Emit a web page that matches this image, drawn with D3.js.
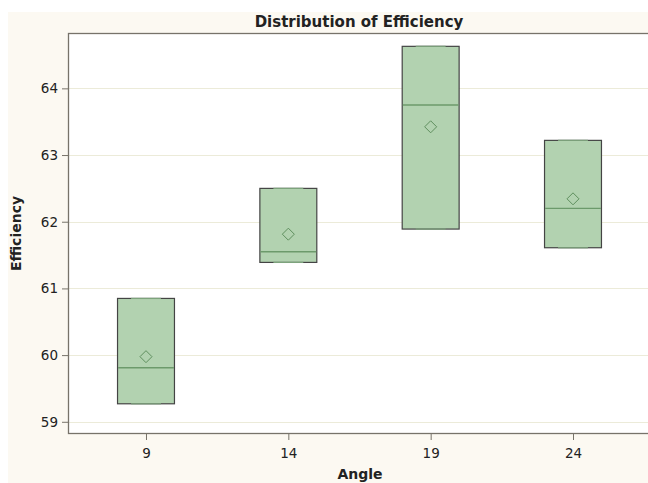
<!DOCTYPE html>
<html>
<head>
<meta charset="utf-8">
<script src="https://cdn.jsdelivr.net/npm/d3@7"></script>
<style>
  html, body { margin: 0; padding: 0; background: #ffffff; }
  svg { display: block; }
  text { font-family: "DejaVu Sans", sans-serif; fill: #222; }
</style>
</head>
<body>
<svg id="chart" width="648" height="483"></svg>
<script>
// Efficiency readings, three runs at each angle
const angles = [9, 14, 19, 24];
const runsAt9  = [59.27, 59.81, 60.85];
const runsAt14 = [61.39, 61.55, 62.50];
const runsAt19 = [61.89, 63.75, 64.63];
const runsAt24 = [61.61, 62.20, 63.22];
const runs = [runsAt9, runsAt14, runsAt19, runsAt24];
const yTicks = [59, 60, 61, 62, 63, 64];
const xTicks = angles;

// Percentile by the empirical distribution with averaging
function pctl(sorted, p) {
  const n = sorted.length, np = n * p, j = Math.floor(np), g = np - j;
  if (g > 0) return sorted[j];
  return (sorted[j - 1] + sorted[j]) / 2;
}

const stats = angles.map((a, i) => {
  const s = runs[i].slice().sort(d3.ascending);
  return {
    angle: a,
    min: s[0], max: s[s.length - 1],
    q1: pctl(s, 0.25), med: pctl(s, 0.5), q3: pctl(s, 0.75),
    mean: d3.mean(s)
  };
});

const W = 648, H = 483;
const plot = { left: 68, right: 651, top: 33, bottom: 434 };

const svg = d3.select("#chart");

// page background
svg.append("rect").attr("x", 8).attr("y", 12).attr("width", W - 8).attr("height", H - 12)
  .attr("fill", "#fcf9f2");

const x = d3.scaleLinear().domain([6.26, 26.74]).range([plot.left, plot.right]);
const y = d3.scaleLinear().domain([58.817, 64.83]).range([plot.bottom, plot.top]);

// plot area
svg.append("rect")
  .attr("x", plot.left).attr("y", plot.top)
  .attr("width", plot.right - plot.left).attr("height", plot.bottom - plot.top)
  .attr("fill", "#ffffff");

// horizontal grid
svg.append("g").selectAll("line").data(yTicks).join("line")
  .attr("x1", plot.left).attr("x2", plot.right)
  .attr("y1", d => Math.round(y(d)) + 0.5).attr("y2", d => Math.round(y(d)) + 0.5)
  .attr("stroke", "#ecebd9").attr("stroke-width", 1);

// boxes
const boxes = svg.append("g");
const half = 1;
stats.forEach(d => {
  const x0 = x(d.angle - half), x1 = x(d.angle + half), xc = x(d.angle);
  boxes.append("rect")
    .attr("x", x0).attr("y", y(d.q3))
    .attr("width", x1 - x0).attr("height", y(d.q1) - y(d.q3))
    .attr("fill", "#b2d2b0").attr("stroke", "#444444").attr("stroke-width", 1.2);
  // whisker caps
  const cw = (x1 - x0) / 4;
  [d.min, d.max].forEach(v => {
    boxes.append("line")
      .attr("x1", xc - cw * 1.05).attr("x2", xc + cw * 1.05)
      .attr("y1", y(v)).attr("y2", y(v))
      .attr("stroke", "#7da37c").attr("stroke-width", 1.2);
  });
  // median
  boxes.append("line")
    .attr("x1", x0 + 0.6).attr("x2", x1 - 0.6)
    .attr("y1", y(d.med)).attr("y2", y(d.med))
    .attr("stroke", "#6c9a6b").attr("stroke-width", 1.4);
  // mean marker
  const r = 6;
  const cy = y(d.mean);
  boxes.append("path")
    .attr("d", `M${xc},${cy - r}L${xc + r},${cy}L${xc},${cy + r}L${xc - r},${cy}Z`)
    .attr("fill", "none").attr("stroke", "#5f8f5e").attr("stroke-width", 1);
});

// frame
svg.append("rect")
  .attr("x", plot.left + 0.5).attr("y", plot.top + 0.5)
  .attr("width", plot.right - plot.left).attr("height", plot.bottom - plot.top - 1)
  .attr("fill", "none").attr("stroke", "#77736a").attr("stroke-width", 1.3);

// y axis
const yAxis = d3.axisLeft(y).tickValues(yTicks).tickSize(6).tickPadding(4).tickFormat(d3.format("d"));
const gy = svg.append("g").attr("transform", `translate(${plot.left},0)`).call(yAxis);
gy.select(".domain").remove();
gy.selectAll(".tick line").attr("stroke", "#77736a");
gy.selectAll(".tick text").attr("font-size", 13.5).attr("fill", "#222")
  .attr("font-family", "DejaVu Sans, sans-serif");

// x axis
const xAxis = d3.axisBottom(x).tickValues(xTicks).tickSize(6).tickPadding(8).tickFormat(d3.format("d"));
const gx = svg.append("g").attr("transform", `translate(0,${plot.bottom})`).call(xAxis);
gx.select(".domain").remove();
gx.selectAll(".tick line").attr("stroke", "#77736a");
gx.selectAll(".tick text").attr("font-size", 13.5).attr("fill", "#222")
  .attr("font-family", "DejaVu Sans, sans-serif");

// titles
svg.append("text")
  .attr("x", 359).attr("y", 27)
  .attr("text-anchor", "middle")
  .attr("font-family", "DejaVu Sans Condensed, DejaVu Sans, sans-serif")
  .attr("font-weight", "bold").attr("font-size", 15)
  .text("Distribution of Efficiency");

svg.append("text")
  .attr("x", 360).attr("y", 479)
  .attr("text-anchor", "middle")
  .attr("font-weight", "bold").attr("font-size", 14)
  .text("Angle");

svg.append("text")
  .attr("transform", `translate(21,${(plot.top + plot.bottom) / 2}) rotate(-90)`)
  .attr("text-anchor", "middle")
  .attr("font-weight", "bold").attr("font-size", 14)
  .text("Efficiency");
</script>
</body>
</html>
